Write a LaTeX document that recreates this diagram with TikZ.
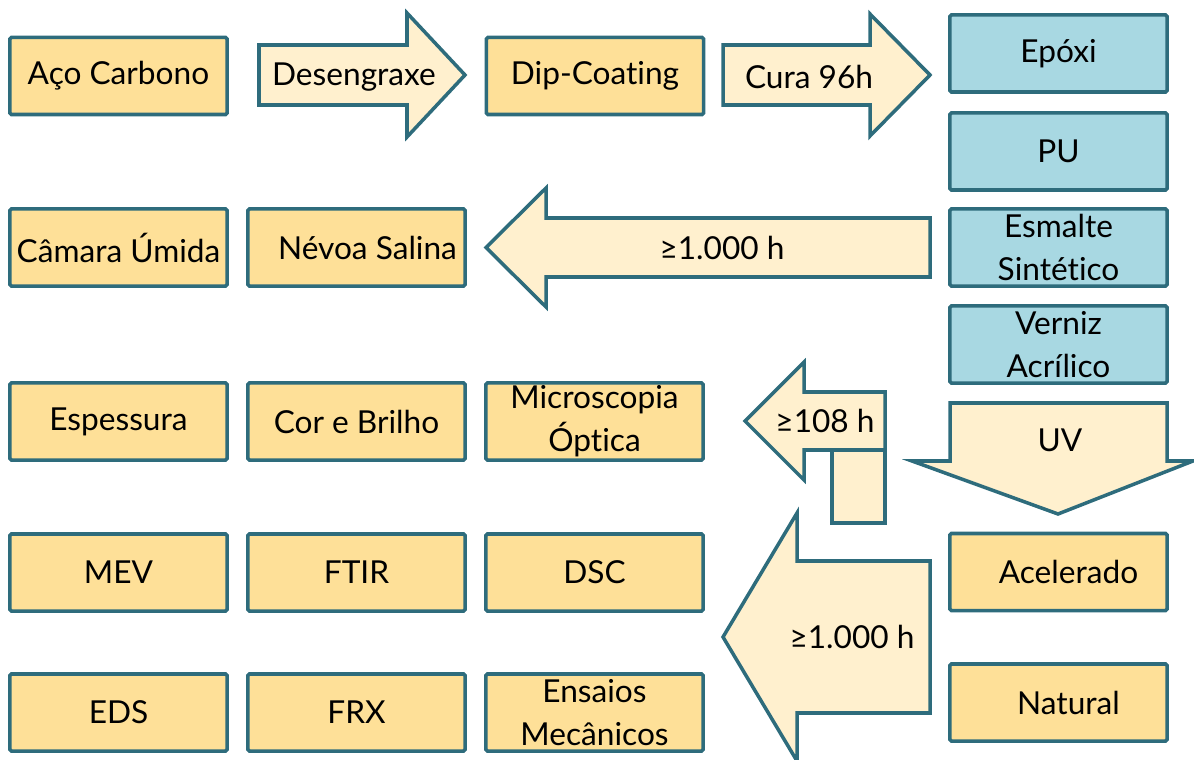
\documentclass[tikz,border=0pt]{standalone}
\usepackage{fontspec}
\setmainfont{Lato}[Ligatures={NoCommon}]

\definecolor{rim}{RGB}{46,108,124}
\definecolor{samplefill}{RGB}{254,224,152}
\definecolor{flowfill}{RGB}{255,240,206}
\definecolor{coatfill}{RGB}{168,216,226}

\begin{document}
\begin{tikzpicture}[x=0.025cm,y=-0.025cm,
  sample/.style={draw=rim,fill=samplefill,line width=2.5pt,rounded corners=1pt,
                 minimum width=5.425cm,minimum height=1.925cm,inner sep=0pt,
                 align=center,font=\fontsize{22.5}{30.6}\selectfont},
  coat/.style={sample,fill=coatfill},
  flow/.style={draw=rim,fill=flowfill,line width=2.5pt,line join=miter},
  flowtext/.style={inner sep=0pt,font=\fontsize{22.5}{27}\selectfont}]
  \useasboundingbox (0,0) rectangle (1194,760);

  % Preparation line: substrate, cleaning, coating, curing.
  \node[sample] (aco) at (118.5,76) {Aço Carbono};
  \draw[flow] (259,45) -- (407,45) -- (407,13) -- (465,75) -- (407,137)
    -- (407,105) -- (259,105) -- cycle;
  \node[flowtext] (deseng) at (354,77) {Desengraxe};
  \node[sample] (dip) at (595,76) {Dip-Coating};
  \draw[flow] (723,45) -- (870,45) -- (870,14) -- (930,75) -- (870,136)
    -- (870,105) -- (723,105) -- cycle;
  \node[flowtext] (cura) at (809,77) {Cura 96h};

  % The four coatings.
  \node[coat] (epoxi) at (1058.5,53.5) {Epóxi};
  \node[coat] (pu) at (1058.5,151.5) {PU};
  \node[coat] (esmalte) at (1058.5,247.5) {Esmalte\\Sintético};
  \node[coat] (verniz) at (1058.5,344.5) {Verniz\\Acrílico};

  % Corrosion chambers.
  \draw[flow] (930,218) -- (546,218) -- (546,188) -- (486,247.5) -- (546,307)
    -- (546,277) -- (930,277) -- cycle;
  \node[flowtext] (corr) at (722,247.5) {≥1.000 h};
  \node[sample] (camara) at (118.5,247.5) {Câmara Úmida};
  \node[sample] (nevoa) at (356.5,247.5) {\hspace*{0.55cm}Névoa Salina};

  % UV ageing, accelerated and natural.
  \draw[flow] (950,403) -- (1167,403) -- (1167,461) -- (1193,461)
    -- (1058,514) -- (912,461) -- (950,461) -- cycle;
  \node[flowtext] (uv) at (1060,440) {UV};
  \node[sample] (acel) at (1058.5,572) {\hspace*{0.5cm}Acelerado};
  \node[sample] (natural) at (1058.5,702.5) {\hspace*{0.5cm}Natural};

  \draw[flow] (885,392) -- (804,392) -- (804,362) -- (745,421) -- (804,480)
    -- (804,450) -- (885,450) -- cycle;
  \draw[flow] (832,450) rectangle (885,523);
  \node[flowtext] (curto) at (825,421) {≥108 h};

  \draw[flow] (930,561) -- (797,561) -- (797,513) -- (723,637) -- (797,761)
    -- (797,713) -- (930,713) -- cycle;
  \node[flowtext] (longo) at (852,637) {≥1.000 h};

  % Characterisation.
  \node[sample] (espessura) at (118.5,421.5) {Espessura};
  \node[sample] (cor) at (356.5,421.5) {Cor e Brilho};
  \node[sample] (micro) at (594.5,421.5) {Microscopia\\Óptica};
  \node[sample] (mev) at (118.5,572.5) {MEV};
  \node[sample] (ftir) at (356.5,572.5) {FTIR};
  \node[sample] (dsc) at (594.5,572.5) {DSC};
  \node[sample] (eds) at (118.5,712.5) {EDS};
  \node[sample] (frx) at (356.5,712.5) {FRX};
  \node[sample] (ensaios) at (594.5,712.5) {Ensaios\\Mecânicos};
\end{tikzpicture}
\end{document}
